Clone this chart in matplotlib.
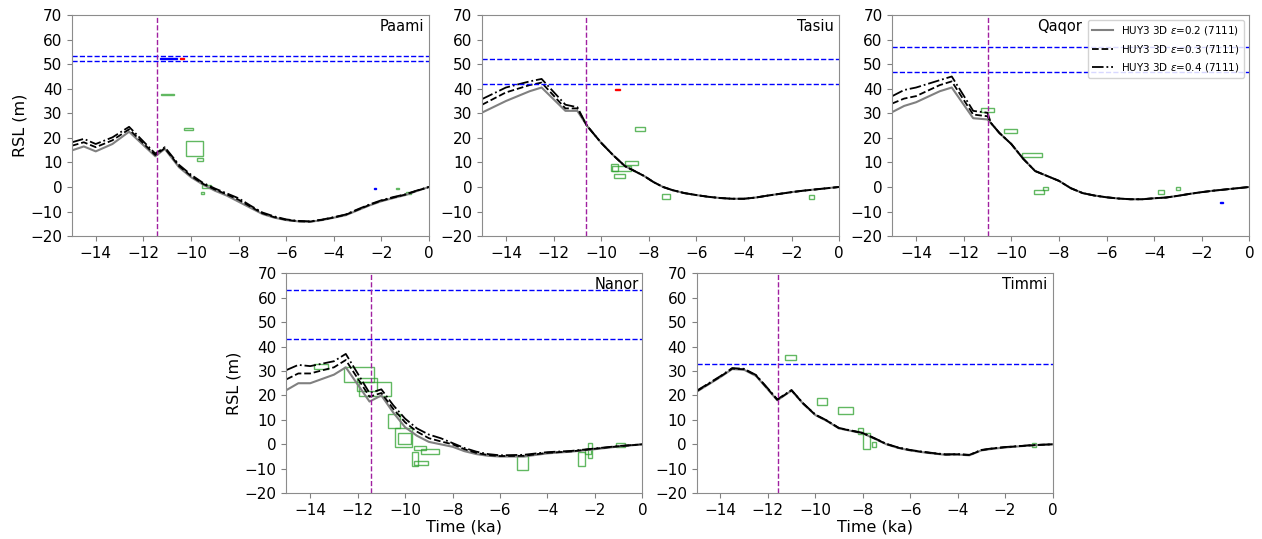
import matplotlib
matplotlib.use("Agg")
from matplotlib import pyplot as plt
from matplotlib.patches import Rectangle

# model RSL curves (ka, m) for the three lithosphere cases
paami_t = [-15, -14.5, -14, -13.3, -12.6, -11.5, -11.1, -10.5, -10, -9.5, -9, -8.5, -8, -7.5, -7,
           -6.5, -6, -5.5, -5, -4.5, -4, -3.5, -3, -2.5, -2, -1.5, -1, -0.5, 0]
paami_e2 = [14.9, 16.5, 14.5, 17.5, 22.5, 12.5, 15.5, 8, 4, 1, -1.5, -3.5, -6, -8.5, -11,
            -12.5, -13.5, -14, -14.2, -13.5, -12.5, -11.5, -9.5, -7.5, -5.8, -4.5, -3.3, -1.6, 0]
paami_e3 = [16.8, 18.2, 16.2, 19, 23.5, 13, 15.8, 8.5, 4.5, 1.3, -1, -3, -5.2, -8, -10.7,
            -12.3, -13.4, -14, -14.1, -13.4, -12.4, -11.3, -9.3, -7.3, -5.6, -4.3, -3.1, -1.5, 0]
paami_e4 = [18.2, 19.6, 17.5, 20.2, 24.5, 13.6, 16.2, 9, 5, 1.7, -0.6, -2.6, -4.6, -7.6, -10.4,
            -12, -13.2, -13.8, -14, -13.3, -12.3, -11.2, -9.1, -7.1, -5.4, -4.1, -3, -1.4, 0]

tasiu_t = [-15, -14, -13, -12.5, -11.5, -11, -10.6, -10, -9.5, -9, -8.5, -8.2, -7.8, -7.4, -7,
           -6.5, -6, -5.5, -5, -4.5, -4, -3.5, -3, -2.5, -2, -1.5, -1, -0.5, 0]
tasiu_tail = [25, 18, 13, 8.5, 6, 4.5, 2, 0, -1.3, -2.5, -3.3, -4, -4.5, -4.8, -4.8, -4.3,
              -3.5, -2.8, -2.1, -1.5, -1, -0.5, 0]
tasiu_e2 = [30.3, 35, 39, 40.5, 31, 31] + tasiu_tail
tasiu_e3 = [33.5, 38.5, 41.5, 42.5, 32, 32] + tasiu_tail
tasiu_e4 = [35.8, 40.5, 43, 44, 33.5, 32.5] + tasiu_tail

qaqor_t = [-15, -14.5, -14, -13, -12.5, -11.6, -11, -10.85, -10.5, -10, -9.5, -9, -8.5, -8, -7.5,
           -7, -6.5, -6, -5.5, -5, -4.5, -4, -3.5, -3, -2.5, -2, -1.5, -1, -0.5, 0]
qaqor_tail = [26, 22, 17.5, 11.5, 6.5, 4.5, 2.5, -0.5, -2.5, -3.5, -4.2, -4.7, -5, -5, -4.6,
              -4.3, -3.6, -2.8, -2.1, -1.5, -1, -0.5, 0]
qaqor_e2 = [30.5, 33, 34.5, 39, 40.5, 28, 27.5] + qaqor_tail
qaqor_e3 = [34, 36, 37, 41.5, 43, 29.5, 28.8] + qaqor_tail
qaqor_e4 = [37, 39.5, 40.5, 43.5, 45, 31, 30.2] + qaqor_tail

nanor_t = [-15, -14.5, -14, -13, -12.5, -11.5, -11, -10.5, -10, -9.5, -9, -8.5, -8, -7.5, -7,
           -6.5, -6, -5, -4, -3, -2, -1, 0]
nanor_e2 = [22.2, 25, 25, 28.5, 31.5, 17.5, 20, 13, 7, 3.5, 1, 0, -1, -2.8, -4,
            -4.7, -5, -5, -3.7, -3, -2, -0.9, 0]
nanor_e3 = [26.6, 29, 29, 31.5, 34.5, 19.5, 21, 14.5, 9, 5.2, 2.5, 1.2, 0, -2, -3.5,
            -4.4, -4.8, -4.7, -3.5, -2.9, -1.8, -0.8, 0]
nanor_e4 = [30.4, 32.5, 32, 34, 37, 21, 22.5, 16, 10.5, 6.5, 4, 2.5, 0.5, -1.5, -3,
            -4, -4.5, -4.3, -3.2, -2.7, -1.7, -0.7, 0]

timmi_t = [-15, -14.5, -14, -13.5, -13, -12.5, -12, -11.6, -11, -10.5, -10, -9.5, -9, -8.5, -8,
           -7.5, -7, -6.5, -6, -5.5, -5, -4.5, -4, -3.5, -3, -2.5, -2, -1.5, -1, -0.5, 0]
timmi_e2 = [21.5, 24.5, 27.5, 30.8, 30.5, 28, 22.5, 18, 22, 16.5, 12, 9.5, 6.5, 5.5, 4.5,
            2.3, 0, -1.5, -2.5, -3.2, -3.8, -4.3, -4.2, -4.5, -2.5, -1.8, -1.3, -0.9, -0.5, -0.2, 0]
timmi_e3 = [21.7, 24.7, 27.7, 31, 30.7, 28.2, 22.7, 18.2, 22.1, 16.6, 12.1, 9.6, 6.6, 5.6, 4.6,
            2.4, 0.1, -1.4, -2.4, -3.1, -3.7, -4.2, -4.1, -4.4, -2.4, -1.7, -1.2, -0.8, -0.5, -0.2, 0]
timmi_e4 = [21.9, 24.9, 27.9, 31.2, 30.9, 28.4, 22.9, 18.4, 22.2, 16.7, 12.2, 9.7, 6.7, 5.7, 4.7,
            2.5, 0.2, -1.3, -2.3, -3, -3.6, -4.1, -4, -4.3, -2.3, -1.6, -1.1, -0.8, -0.4, -0.2, 0]

# sea-level index points as (t0, t1, z0, z1)
paami_sl = [(-11.26, -10.71, 37.4, 38.0), (-10.28, -9.9, 23.3, 23.9), (-10.21, -9.48, 12.6, 18.6),
            (-9.76, -9.5, 10.7, 11.6), (-9.52, -9.14, -0.5, 0.8), (-9.58, -9.46, -2.8, -2.0),
            (-1.4, -1.28, -1.0, -0.3), (-0.95, -0.75, -2.7, -2.1)]
tasiu_sl = [(-8.56, -8.17, 22.8, 24.4), (-9.0, -8.46, 9.0, 10.6), (-9.6, -9.3, 6.6, 9.2),
            (-9.55, -8.75, 6.5, 8.5), (-9.44, -8.99, 3.5, 5.3), (-7.44, -7.1, -4.8, -3.0),
            (-1.27, -1.06, -5.0, -3.3)]
qaqor_sl = [(-11.27, -10.72, 30.4, 32.3), (-10.3, -9.75, 21.9, 23.7), (-9.56, -8.73, 12.1, 13.7),
            (-9.06, -8.62, -3.0, -1.4), (-8.66, -8.44, -1.4, 0.0), (-3.82, -3.6, -3.0, -1.1),
            (-3.1, -2.9, -1.4, 0.0)]
nanor_sl = [(-13.85, -13.26, 31.0, 32.8), (-12.59, -11.33, 25.7, 31.7), (-12.04, -11.18, 21.8, 27.3),
            (-11.95, -10.6, 19.7, 25.4), (-10.73, -10.23, 6.5, 12.3), (-10.41, -9.72, -1.3, 6.5),
            (-10.28, -9.77, 0.3, 4.7), (-9.61, -9.11, -2.4, -0.8), (-9.35, -8.58, -3.8, -2.0),
            (-9.7, -9.47, -9.0, -3.2), (-9.61, -9.02, -8.3, -6.8), (-5.27, -4.83, -10.5, -4.8),
            (-2.7, -2.4, -8.7, -3.0), (-2.3, -2.12, -5.4, 0.7), (-2.4, -2.18, -3.8, -2.1),
            (-1.13, -0.74, -1.3, 0.6)]
timmi_sl = [(-11.28, -10.8, 34.5, 36.5), (-9.93, -9.5, 16.1, 19.1), (-9.03, -8.41, 12.3, 15.4),
            (-8.2, -8.0, 4.1, 6.8), (-7.97, -7.68, -1.9, 4.5), (-7.62, -7.42, -1.0, 0.8),
            (-0.87, -0.69, -1.0, 0.7)]

# marine limits / upper limits (blue) and other constraints (red)
paami_blue = [(-11.3, -10.6, 52.0, 52.6), (-2.32, -2.22, -0.8, -0.4)]
paami_red = [(-10.47, -10.3, 52.0, 52.6)]
tasiu_blue = []
tasiu_red = [(-9.4, -9.2, 39.3, 39.8)]
qaqor_blue = [(-1.22, -1.12, -6.6, -6.2)]
qaqor_red = []

paami_hl = [53.5, 51.3]
tasiu_hl = [52, 42]
qaqor_hl = [57, 47]
nanor_hl = [63, 43]
timmi_hl = [33]

paami_deg = -11.43
tasiu_deg = -10.65
qaqor_deg = -10.97
nanor_deg = -11.45
timmi_deg = -11.56

labels = ["HUY3 3D $\\varepsilon$=0.2 (7111)", "HUY3 3D $\\varepsilon$=0.3 (7111)",
          "HUY3 3D $\\varepsilon$=0.4 (7111)"]

sites = [
    ("Paami", [0.057, 0.562, 0.283, 0.410], paami_t, paami_e2, paami_e3, paami_e4, paami_sl,
     paami_blue, paami_red, paami_hl, paami_deg, 0.985),
    ("Tasiu", [0.382, 0.562, 0.283, 0.410], tasiu_t, tasiu_e2, tasiu_e3, tasiu_e4, tasiu_sl,
     tasiu_blue, tasiu_red, tasiu_hl, tasiu_deg, 0.985),
    ("Qaqor", [0.707, 0.562, 0.283, 0.410], qaqor_t, qaqor_e2, qaqor_e3, qaqor_e4, qaqor_sl,
     qaqor_blue, qaqor_red, qaqor_hl, qaqor_deg, 0.532),
    ("Nanor", [0.227, 0.085, 0.282, 0.408], nanor_t, nanor_e2, nanor_e3, nanor_e4, nanor_sl,
     [], [], nanor_hl, nanor_deg, 0.99),
    ("Timmi", [0.552, 0.085, 0.282, 0.408], timmi_t, timmi_e2, timmi_e3, timmi_e4, timmi_sl,
     [], [], timmi_hl, timmi_deg, 0.985),
]

fig = plt.figure(figsize=(12.62, 5.39), dpi=100)

for i, (name, rect, t, e2, e3, e4, sl, blue, red, hl, deg, tx) in enumerate(sites):
    ax = fig.add_axes(rect)
    ax.plot(t, e2, color="gray", lw=1.5, label=labels[0])
    ax.plot(t, e3, color="black", ls="--", lw=1.3, label=labels[1])
    ax.plot(t, e4, color="black", ls="-.", lw=1.3, label=labels[2])
    for z in hl:
        ax.axhline(z, color="blue", ls="--", lw=1)
    ax.axvline(deg, color="#a020a0", ls="--", lw=1)
    for t0, t1, z0, z1 in sl:
        ax.add_patch(Rectangle((t0, z0), t1 - t0, z1 - z0, fill=False,
                               edgecolor="#2ca02c", lw=1, alpha=0.75))
    for t0, t1, z0, z1 in blue:
        ax.add_patch(Rectangle((t0, z0), t1 - t0, z1 - z0, fill=False, edgecolor="blue", lw=1))
    for t0, t1, z0, z1 in red:
        ax.add_patch(Rectangle((t0, z0), t1 - t0, z1 - z0, color="red", lw=1))
    ax.set_xlim(-15, 0)
    ax.set_ylim(-20, 70)
    ax.set_xticks([-14, -12, -10, -8, -6, -4, -2, 0])
    ax.set_yticks(range(-20, 71, 10))
    ax.tick_params(labelsize=11, color="0.5", length=3.5)
    for s in ax.spines.values():
        s.set_color("0.55")
    ax.text(tx, 0.95, name, transform=ax.transAxes, ha="right", va="center", fontsize=10.5)
    if name in ("Paami", "Nanor"):
        ax.set_ylabel("RSL (m)", fontsize=11.5, labelpad=2)
    if i >= 3:
        ax.set_xlabel("Time (ka)", fontsize=11.5, labelpad=1)
    if name == "Qaqor":
        ax.legend(loc="upper right", fontsize=7.5, framealpha=0.85, edgecolor="0.8")

fig.savefig("out.png", dpi=100)
